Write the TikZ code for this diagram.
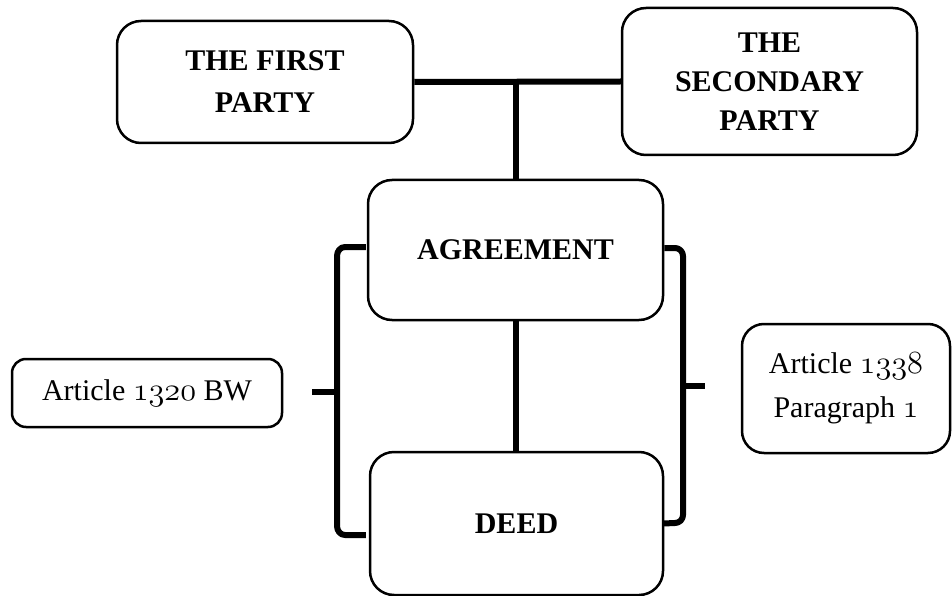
\documentclass[tikz,border=0pt]{standalone}
\usepackage{fontspec}
\usepackage{graphicx}
\setmainfont{Liberation Serif}
\usetikzlibrary{calc}
\newcommand{\osf}[1]{\scalebox{1.3}{\fontencoding{OML}\fontfamily{lmm}\fontseries{m}\fontshape{it}\selectfont #1}}
\tikzset{
  bigbox/.style={draw, line width=2.5pt, rounded corners=24pt, align=center, font=\fontsize{30}{42}\selectfont\bfseries},
  smallbox/.style={draw, line width=2.5pt, rounded corners=16pt, align=center, font=\fontsize{30}{44}\selectfont},
  conn/.style={line width=6pt},
  brk/.style={line width=6pt, line join=round}
}
\begin{document}
\begin{tikzpicture}[x=1pt,y=-1pt]
\useasboundingbox (0,0) rectangle (952,596);
\node[bigbox, minimum width=296pt, minimum height=122pt] (first) at (265,82) {THE FIRST\\PARTY};
\node[bigbox, font=\fontsize{30}{39}\selectfont\bfseries, minimum width=295pt, minimum height=147pt] (second) at (769.5,81.5) {THE\\SECONDARY\\PARTY};
\node[bigbox, minimum width=295pt, minimum height=140pt] (agr) at (515.5,250) {AGREEMENT};
\node[bigbox, minimum width=293pt, minimum height=143pt] (deed) at (516.5,523.5) {DEED};
\node[smallbox, rounded corners=14pt, minimum width=270pt, minimum height=68pt] (left) at (147,393) {Article \osf{1320} BW};
\node[smallbox, rounded corners=22pt, minimum width=208pt, minimum height=129pt] (right) at (846,388.5) {Article \osf{1338}\\Paragraph \osf{1}};
% party connector
\draw[conn] (first.east) -- (second.west);
\draw[conn] (agr.north) -- (agr.north |- first.east);
\draw[conn] (agr.south) -- (agr.south |- deed.north);
% left bracket
\coordinate (ltip) at (312,392);
\draw[brk] ($(agr.west)+(-1,-3)$) -- (345,247) to[out=180,in=90] (337,256) -- (337,526) to[out=-90,in=180] (345,535) -- ($(deed.west)+(-3,11.5)$);
\draw[conn] (ltip) -- (337,392);
% right bracket
\coordinate (rtip) at (705,386);
\draw[brk] ($(agr.east)+(0,-2)$) -- (675,248) to[out=0,in=90] (683,256) -- (683,515) to[out=-90,in=0] (675,523) -- ($(deed.east)+(-1,0)$);
\draw[conn] (683,386) -- (rtip);
\end{tikzpicture}
\end{document}
